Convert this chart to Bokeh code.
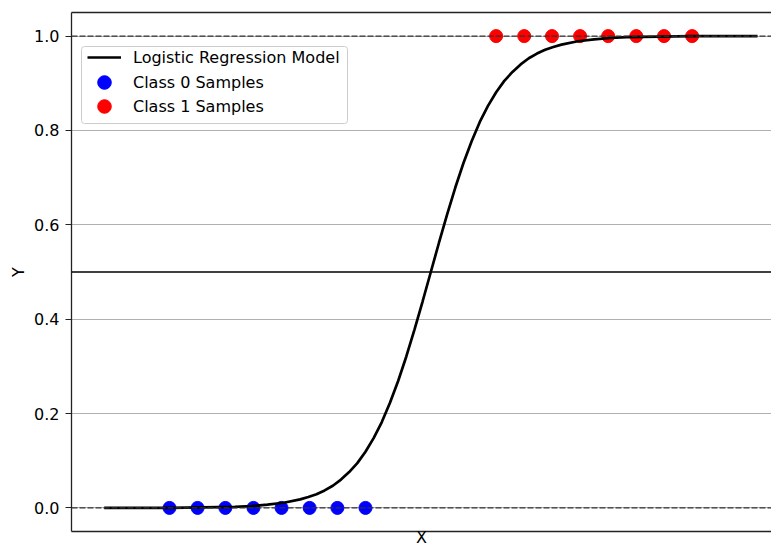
from bokeh.plotting import figure
from bokeh.models import (Range1d, Span, Legend, LegendItem, FixedTicker, PrintfTickFormatter,
                          LinearAxis, BoxAnnotation)
from bokeh.embed import file_html
from bokeh.resources import INLINE

# ---- data ----
class0_x = [-8.0, -7.14, -6.29, -5.43, -4.57, -3.71, -2.86, -2.0]
class0_y = [0, 0, 0, 0, 0, 0, 0, 0]
class1_x = [2.0, 2.86, 3.71, 4.57, 5.43, 6.29, 7.14, 8.0]
class1_y = [1, 1, 1, 1, 1, 1, 1, 1]

model_x = [-10, -9, -8, -7, -6, -5.5, -5, -4.5, -4, -3.75, -3.5, -3.25, -3, -2.75, -2.5,
           -2.25, -2, -1.75, -1.5, -1.25, -1, -0.75, -0.5, -0.25, 0,
           0.25, 0.5, 0.75, 1, 1.25, 1.5, 1.75, 2, 2.25, 2.5, 2.75, 3, 3.25, 3.5, 3.75,
           4, 4.5, 5, 5.5, 6, 7, 8, 9, 10]
model_y = [0.000, 0.000, 0.000, 0.001, 0.002, 0.004, 0.007, 0.011, 0.018, 0.023, 0.029,
           0.037, 0.047, 0.060, 0.076, 0.095, 0.119, 0.148, 0.182, 0.223, 0.269, 0.321,
           0.378, 0.438, 0.500,
           0.562, 0.622, 0.679, 0.731, 0.777, 0.818, 0.852, 0.881, 0.905, 0.924, 0.940,
           0.953, 0.963, 0.971, 0.977, 0.982, 0.989, 0.993, 0.996, 0.998, 0.999, 1.000,
           1.000, 1.000]

ref_levels = [0.0, 1.0]
threshold = 0.5
y_ticks = [0.0, 0.2, 0.4, 0.6, 0.8, 1.0]
legend_labels = ["Logistic Regression Model", "Class 0 Samples", "Class 1 Samples"]

FONT = "DejaVu Sans"
FS = "16px"
SPINE = "#222222"

p = figure(width=771, height=549, output_backend="svg", toolbar_location=None,
           x_range=Range1d(-11, 10.43), y_range=Range1d(-0.05, 1.05),
           min_border_left=71, min_border_top=12, min_border_bottom=16, min_border_right=0)

p.outline_line_color = None

# bottom axis (no ticks)
p.xaxis.ticker = FixedTicker(ticks=[])
p.xaxis.major_tick_out = 0
p.xaxis.major_tick_in = 0
p.xaxis.minor_tick_out = 0
p.xaxis.minor_tick_in = 0
p.xaxis.major_label_standoff = 0
p.xaxis.axis_label = "X"
p.xaxis.axis_label_standoff = -4
p.xaxis.axis_label_text_line_height = 0.7
p.xaxis.axis_label_text_font_style = "normal"
p.xaxis.axis_label_text_font = FONT
p.xaxis.axis_label_text_font_size = FS
p.xaxis.axis_label_text_color = "#000000"
p.xaxis.axis_line_color = SPINE
p.xaxis.axis_line_width = 1.3

# left axis
p.yaxis.ticker = FixedTicker(ticks=y_ticks)
p.yaxis.formatter = PrintfTickFormatter(format="%.1f")
p.yaxis.major_tick_out = 6
p.yaxis.major_tick_in = 0
p.yaxis.minor_tick_out = 0
p.yaxis.minor_tick_in = 0
p.yaxis.major_tick_line_color = SPINE
p.yaxis.major_tick_line_width = 1.2
p.yaxis.major_label_standoff = 6
p.yaxis.major_label_text_font = FONT
p.yaxis.major_label_text_font_size = FS
p.yaxis.major_label_text_color = "#000000"
p.yaxis.axis_label = "Y"
p.yaxis.axis_label_standoff = 3
p.yaxis.axis_label_text_font_style = "normal"
p.yaxis.axis_label_text_font = FONT
p.yaxis.axis_label_text_font_size = FS
p.yaxis.axis_label_text_color = "#000000"
p.yaxis.axis_line_color = SPINE
p.yaxis.axis_line_width = 1.3

# top spine as an empty axis
top_axis = LinearAxis(ticker=FixedTicker(ticks=[]), major_tick_out=0, major_tick_in=0,
                      minor_tick_out=0, minor_tick_in=0, major_label_standoff=0,
                      axis_line_color=SPINE, axis_line_width=1.3)
p.add_layout(top_axis, "above")

p.xgrid.visible = False
p.ygrid.ticker = FixedTicker(ticks=y_ticks)
p.ygrid.grid_line_color = "#b0b0b0"
p.ygrid.grid_line_width = 1.2

# samples
r0 = p.scatter(class0_x, class0_y, size=13, color="#0000ff", line_color="#0000ff")
r1 = p.scatter(class1_x, class1_y, size=13, color="#ff0000", line_color="#ff0000")

# model curve
rl = p.line(model_x, model_y, line_color="#000000", line_width=2.7)

# reference lines
for lv in ref_levels:
    p.add_layout(Span(location=lv, dimension="width", line_color="#333333",
                      line_width=1.4, line_dash="6 2"))
p.add_layout(Span(location=threshold, dimension="width", line_color="#000000", line_width=1.6))

# legend frame
legend_box = BoxAnnotation(left=81, right=347, top=46, bottom=123,
                           left_units="canvas", right_units="canvas",
                           top_units="canvas", bottom_units="canvas",
                           fill_color="#ffffff", fill_alpha=0.8,
                           line_color="#cccccc", line_width=1, line_alpha=1.0,
                           border_radius=3)
p.add_layout(legend_box)

# one legend per row (keeps large markers with tight row spacing)
for lbl, rend, ypos in zip(legend_labels, [rl, r0, r1], [457, 432, 408]):
    lg = Legend(items=[LegendItem(label=lbl, renderers=[rend])], location=(16, ypos))
    lg.label_text_font = FONT
    lg.label_text_font_size = FS
    lg.label_text_color = "#000000"
    lg.label_height = 20
    lg.glyph_height = 34
    lg.glyph_width = 34
    lg.label_standoff = 12
    lg.spacing = 0
    lg.padding = 0
    lg.border_line_color = None
    lg.background_fill_alpha = 0
    lg.margin = 0
    p.add_layout(lg)

open("out.html", "w").write(file_html(p, INLINE))
